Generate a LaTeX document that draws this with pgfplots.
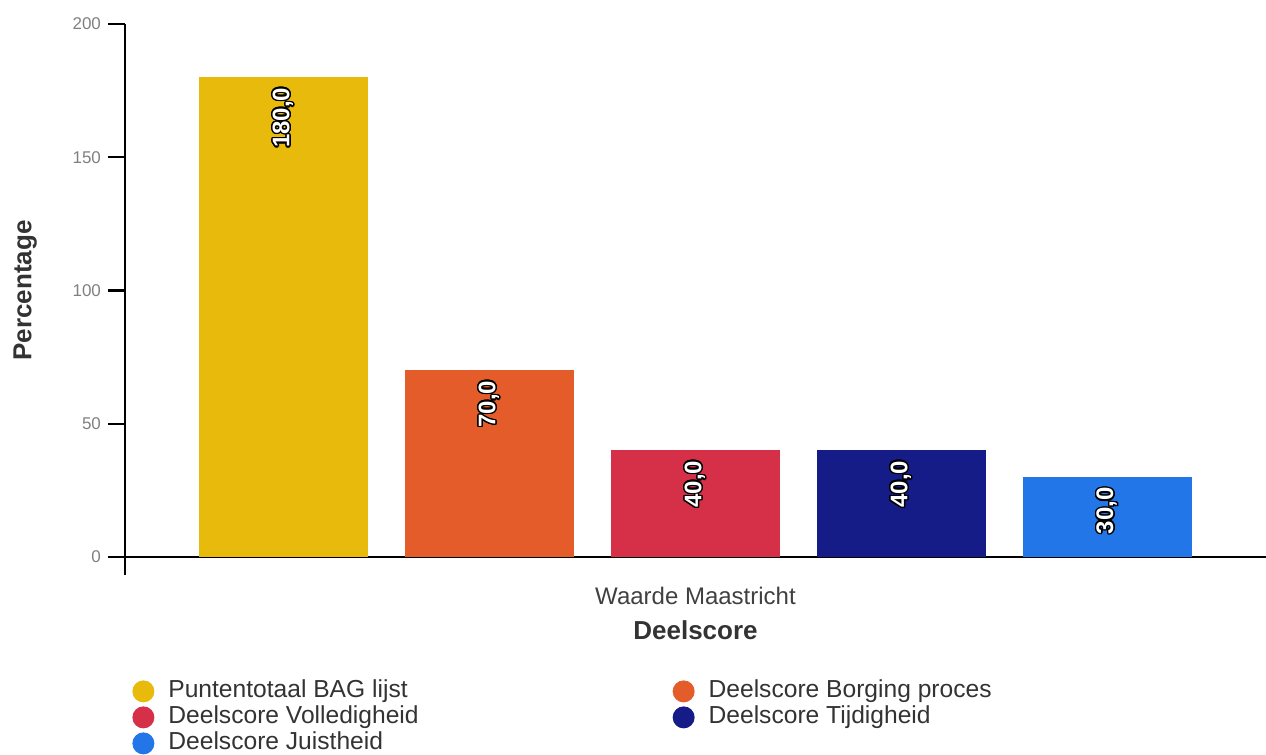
\documentclass[border=0pt]{standalone}
\usepackage{pgfplots}
\pgfplotsset{compat=1.18}
\usepackage{fontspec}
\setmainfont{Liberation Sans}
\usepackage{contour}
\contourlength{0.7pt}

\definecolor{cyellow}{RGB}{232,186,12}
\definecolor{corange}{RGB}{228,92,42}
\definecolor{cred}{RGB}{214,48,72}
\definecolor{cnavy}{RGB}{22,28,135}
\definecolor{cblue}{RGB}{34,118,232}

\begin{document}
\begin{tikzpicture}
  \begin{axis}[
      scale only axis,
      width=570.5pt, height=266.5pt,
      xmin=-0.77, xmax=4.77,
      ymin=0, ymax=200,
      axis lines=left,
      axis line style={-, line width=1.2pt},
      clip=false,
      ybar, bar width=0.82,
      xtick={2},
      xticklabels={Waarde Maastricht},
      x tick style={draw=none},
      xticklabel style={font=\fontsize{12}{13}\selectfont, text=black!75, yshift=-3pt},
      ytick={0,50,100,150,200},
      tick align=outside,
      major tick length=8.5pt,
      y tick style={line width=1.2pt, black},
      yticklabel style={font=\fontsize{8.5}{10}\selectfont, text=gray},
      /pgf/number format/assume math mode=true,
      xlabel={Deelscore},
      xlabel style={font=\bfseries\fontsize{13}{14}\selectfont, text=black!80, yshift=-1pt},
      ylabel={Percentage},
      ylabel style={font=\bfseries\fontsize{13}{14}\selectfont, text=black!80, yshift=11pt},
      nodes near coords={\contour{black}{\pgfmathprintnumber[fixed, fixed zerofill, precision=1, use comma]{\pgfplotspointmeta}}},
      every node near coord/.append style={text=white, font=\bfseries\fontsize{12}{13}\selectfont, rotate=90, anchor=east, inner sep=5pt},
      legend columns=2,
      legend cell align=left,
      legend image code/.code={\fill (5.5pt,0pt) circle (5.5pt);},
      legend style={draw=none, fill=none,
        at={(axis description cs:0,0)}, anchor=north west,
        xshift=0.5pt, yshift=-58.5pt,
        font=\fontsize{12.3}{13}\selectfont, text=black!80,
        row sep=0pt,
        nodes={inner sep=1pt, text height=8.5pt, text depth=2.5pt},
        /tikz/every odd column/.append style={column sep=6pt},
        /tikz/every even column/.append style={column sep=126pt}},
    ]
    \addplot[fill=cyellow, draw=none, bar shift=0pt] coordinates {(0,180)};
    \addplot[fill=corange, draw=none, bar shift=0pt] coordinates {(1,70)};
    \addplot[fill=cred, draw=none, bar shift=0pt] coordinates {(2,40)};
    \addplot[fill=cnavy, draw=none, bar shift=0pt] coordinates {(3,40)};
    \addplot[fill=cblue, draw=none, bar shift=0pt] coordinates {(4,30)};
    \legend{Puntentotaal BAG lijst, Deelscore Borging proces, Deelscore Volledigheid, Deelscore Tijdigheid, Deelscore Juistheid}
    \draw[line width=1.2pt] (axis cs:-0.77,0) -- ([yshift=-9pt]axis cs:-0.77,0);
  \end{axis}
  \pgfresetboundingbox
  \path (-62.5pt,-99pt) rectangle (570.5pt,278.5pt);
\end{tikzpicture}
\end{document}
